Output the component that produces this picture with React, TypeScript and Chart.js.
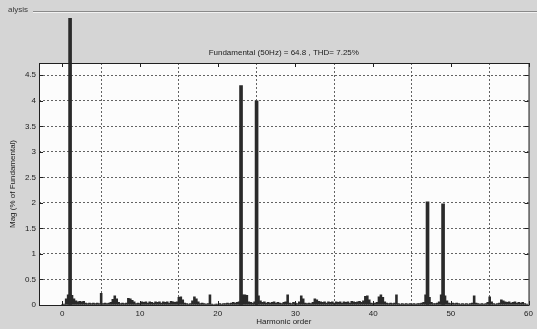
import React, { useEffect, useRef } from "react";
import { Chart, registerables } from "chart.js";

Chart.register(...registerables);

// Fine-resolution spectrum (step of 0.25 harmonic orders, starting at 0)
const FINE_START = 0;
const FINE_STEP = 0.25;
const FINE_MAG: number[] = [
  // 0 – 4.75
  0.01, 0.02, 0.12, 0.2, 0.2, 0.19, 0.12, 0.08, 0.06, 0.07, 0.06, 0.07, 0.04, 0.03, 0.04, 0.03, 0.04, 0.03, 0.04, 0.03,
  // 5 – 9.75
  0.23, 0.03, 0.04, 0.03, 0.04, 0.05, 0.11, 0.18, 0.12, 0.05, 0.03, 0.04, 0.03, 0.04, 0.13, 0.12, 0.09, 0.06, 0.03, 0.04,
  // 10 – 14.75
  0.03, 0.06, 0.05, 0.06, 0.04, 0.06, 0.05, 0.04, 0.06, 0.05, 0.06, 0.04, 0.06, 0.05, 0.06, 0.04, 0.07, 0.06, 0.05, 0.06,
  // 15 – 19.75
  0.15, 0.16, 0.1, 0.04, 0.03, 0.02, 0.03, 0.08, 0.16, 0.12, 0.06, 0.03, 0.04, 0.03, 0.02, 0.03, 0.2, 0.02, 0.01, 0.02,
  // 20 – 24.75
  0.02, 0.03, 0.02, 0.03, 0.03, 0.04, 0.03, 0.04, 0.05, 0.04, 0.05, 0.06, 0.08, 0.2, 0.2, 0.19, 0.06, 0.05, 0.04, 0.06,
  // 25 – 29.75
  0.2, 0.18, 0.08, 0.05, 0.06, 0.04, 0.05, 0.04, 0.05, 0.06, 0.04, 0.05, 0.04, 0.03, 0.05, 0.06, 0.2, 0.04, 0.03, 0.05,
  // 30 – 34.75
  0.04, 0.03, 0.06, 0.18, 0.12, 0.04, 0.03, 0.04, 0.03, 0.05, 0.12, 0.1, 0.07, 0.06, 0.05, 0.06, 0.04, 0.06, 0.05, 0.06,
  // 35 – 39.75
  0.04, 0.06, 0.05, 0.06, 0.04, 0.06, 0.05, 0.06, 0.04, 0.07, 0.06, 0.05, 0.06, 0.07, 0.05, 0.08, 0.17, 0.18, 0.1, 0.04,
  // 40 – 44.75
  0.03, 0.04, 0.05, 0.16, 0.2, 0.15, 0.06, 0.04, 0.03, 0.04, 0.03, 0.04, 0.2, 0.03, 0.02, 0.03, 0.02, 0.03, 0.02, 0.03,
  // 45 – 49.75
  0.02, 0.03, 0.02, 0.03, 0.03, 0.04, 0.05, 0.2, 0.2, 0.15, 0.05, 0.03, 0.03, 0.04, 0.06, 0.2, 0.2, 0.18, 0.08, 0.04,
  // 50 – 54.75
  0.03, 0.04, 0.03, 0.04, 0.03, 0.02, 0.03, 0.02, 0.03, 0.02, 0.03, 0.04, 0.18, 0.04, 0.03, 0.02, 0.03, 0.02, 0.03, 0.05,
  // 55 – 59.75
  0.16, 0.06, 0.03, 0.02, 0.03, 0.04, 0.1, 0.08, 0.06, 0.05, 0.06, 0.04, 0.05, 0.06, 0.04, 0.05, 0.04, 0.05, 0.03, 0.02,
  // 60
  0.0,
];

// Dominant harmonics (% of fundamental)
const MAIN_ORDERS = [1, 23, 25, 47, 49];
const MAIN_MAG = [100, 4.3, 4.0, 2.02, 1.98];

const X_TICKS = [0, 10, 20, 30, 40, 50, 60];
const Y_TICKS = [0, 0.5, 1, 1.5, 2, 2.5, 3, 3.5, 4, 4.5];
const X_MIN = -3;
const X_MAX = 60;
const Y_MIN = 0;
const Y_MAX = 4.74;

const TITLE = "Fundamental (50Hz) = 64.8 , THD= 7.25%";
const X_LABEL = "Harmonic order";
const Y_LABEL = "Mag (% of Fundamental)";
const PANEL_LABEL = "alysis";

const FONT = "'Liberation Sans', Arial, sans-serif";
const BAR_COLOR = "#2a2a2a";
const TEXT_COLOR = "#1c1c1c";
const PANEL_BG = "#d5d5d5";
const GRID_COLOR = "rgba(70,70,70,0.85)";

const W = 537;
const H = 329;

const framePlugin = {
  id: "matlabFrame",
  beforeDraw(chart: any) {
    const { ctx, chartArea: a } = chart;
    ctx.save();
    ctx.fillStyle = PANEL_BG;
    ctx.fillRect(0, 0, chart.width, chart.height);
    ctx.fillStyle = "#fcfcfc";
    ctx.fillRect(a.left, a.top, a.right - a.left, a.bottom - a.top);

    // group box caption and its etched top rule
    ctx.font = `8px ${FONT}`;
    ctx.fillStyle = "#3a3a3a";
    ctx.textBaseline = "middle";
    ctx.textAlign = "left";
    ctx.fillText(PANEL_LABEL, 8, 10);
    ctx.strokeStyle = "#8a8a8a";
    ctx.lineWidth = 1;
    ctx.beginPath();
    ctx.moveTo(33, 11.5);
    ctx.lineTo(chart.width, 11.5);
    ctx.stroke();
    ctx.strokeStyle = "#f2f2f2";
    ctx.beginPath();
    ctx.moveTo(33, 12.5);
    ctx.lineTo(chart.width, 12.5);
    ctx.stroke();
    ctx.restore();
  },
  afterDraw(chart: any) {
    const { ctx, chartArea: a, scales } = chart;
    ctx.save();
    // axes box
    ctx.strokeStyle = "#202020";
    ctx.lineWidth = 1;
    ctx.strokeRect(Math.round(a.left) + 0.5, Math.round(a.top) + 0.5, a.right - a.left, a.bottom - a.top);

    // inward tick marks on all four sides
    ctx.beginPath();
    for (const v of X_TICKS) {
      const px = Math.round(scales.x.getPixelForValue(v)) + 0.5;
      ctx.moveTo(px, a.bottom);
      ctx.lineTo(px, a.bottom - 4);
      ctx.moveTo(px, a.top);
      ctx.lineTo(px, a.top + 4);
    }
    for (const v of Y_TICKS) {
      const py = Math.round(scales.y.getPixelForValue(v)) + 0.5;
      ctx.moveTo(a.left, py);
      ctx.lineTo(a.left + 4, py);
      ctx.moveTo(a.right, py);
      ctx.lineTo(a.right - 4, py);
    }
    ctx.stroke();

    // title and axis labels
    ctx.fillStyle = TEXT_COLOR;
    ctx.font = `8px ${FONT}`;
    ctx.textAlign = "center";
    ctx.textBaseline = "middle";
    const cx = (a.left + a.right) / 2;
    ctx.fillText(TITLE, cx, a.top - 10);
    ctx.fillText(X_LABEL, cx, a.bottom + 17);
    ctx.translate(13, (a.top + a.bottom) / 2);
    ctx.rotate(-Math.PI / 2);
    ctx.fillText(Y_LABEL, 0, 0);
    ctx.restore();
  },
};

export default function App() {
  const canvasRef = useRef<HTMLCanvasElement | null>(null);

  useEffect(() => {
    document.body.style.margin = "0";
    const canvas = canvasRef.current;
    if (!canvas) return;

    const finePoints = FINE_MAG.map((v, i) => ({ x: FINE_START + i * FINE_STEP, y: v }));
    const mainPoints = MAIN_ORDERS.map((h, i) => ({ x: h, y: MAIN_MAG[i] }));

    const chart = new Chart(canvas, {
      type: "bar",
      data: {
        datasets: [
          {
            data: mainPoints,
            backgroundColor: BAR_COLOR,
            borderWidth: 0,
            barThickness: 3,
            grouped: false,
            clip: { left: 0, top: 45, right: 0, bottom: 0 },
            order: 0,
          } as any,
          {
            data: finePoints,
            backgroundColor: BAR_COLOR,
            borderWidth: 0,
            barPercentage: 1,
            categoryPercentage: 1,
            grouped: false,
            order: 1,
          } as any,
        ],
      },
      options: {
        responsive: false,
        animation: false,
        events: [],
        layout: { padding: { top: 63, right: 4, left: 0, bottom: 0 } },
        plugins: {
          legend: { display: false },
          tooltip: { enabled: false },
          title: { display: false },
        },
        scales: {
          x: {
            type: "linear",
            min: X_MIN,
            max: X_MAX,
            offset: false,
            afterBuildTicks: (s: any) => {
              s.ticks = X_TICKS.map((v) => ({ value: v }));
            },
            afterFit: (s: any) => {
              s.height = 24;
            },
            ticks: {
              padding: 4,
              maxRotation: 0,
              autoSkip: false,
              color: TEXT_COLOR,
              font: { family: FONT, size: 8 },
              callback: (v: any) => String(v),
            },
            grid: {
              color: GRID_COLOR,
              lineWidth: 1,
              drawTicks: false,
            },
            border: { display: false, dash: [2, 2] },
          },
          y: {
            type: "linear",
            min: Y_MIN,
            max: Y_MAX,
            afterBuildTicks: (s: any) => {
              s.ticks = Y_TICKS.map((v) => ({ value: v }));
            },
            afterFit: (s: any) => {
              s.width = 39;
            },
            ticks: {
              padding: 3,
              autoSkip: false,
              color: TEXT_COLOR,
              font: { family: FONT, size: 8 },
              callback: (v: any) => String(v),
            },
            grid: {
              color: GRID_COLOR,
              lineWidth: 1,
              drawTicks: false,
            },
            border: { display: false, dash: [2, 2] },
          },
        },
      } as any,
      plugins: [framePlugin],
    });

    return () => chart.destroy();
  }, []);

  return (
    <div style={{ position: "absolute", left: 0, top: 0, width: W, height: H }}>
      <canvas ref={canvasRef} width={W} height={H} style={{ display: "block", width: W, height: H }} />
    </div>
  );
}
